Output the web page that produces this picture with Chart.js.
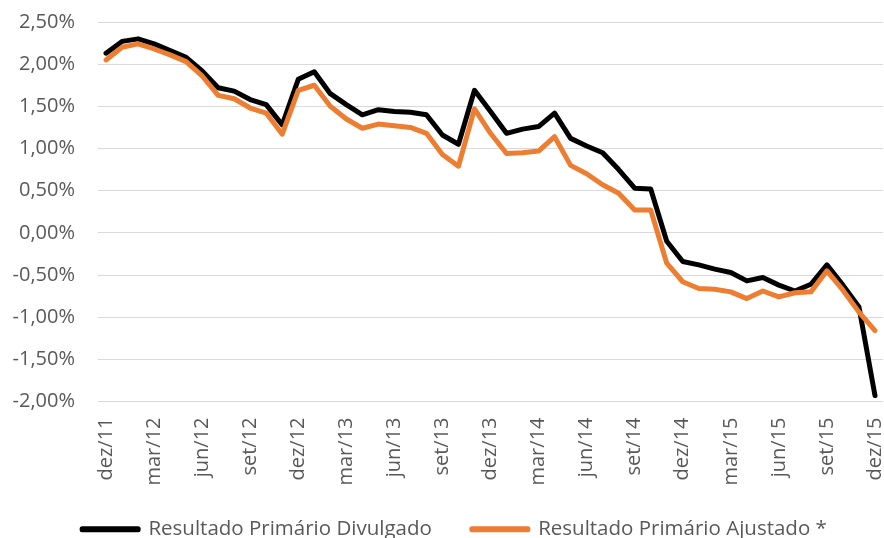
<!DOCTYPE html>
<html>
<head>
<meta charset="utf-8">
<script src="https://cdn.jsdelivr.net/npm/chart.js"></script>
<style>
  html, body { margin: 0; padding: 0; background: #fff; }
</style>
</head>
<body>
<canvas id="myChart" width="884" height="538"></canvas>
<script>
// Data
const months = [
  'dez/11', 'jan/12', 'fev/12', 'mar/12', 'abr/12', 'mai/12', 'jun/12', 'jul/12', 'ago/12', 'set/12', 'out/12', 'nov/12',
  'dez/12', 'jan/13', 'fev/13', 'mar/13', 'abr/13', 'mai/13', 'jun/13', 'jul/13', 'ago/13', 'set/13', 'out/13', 'nov/13',
  'dez/13', 'jan/14', 'fev/14', 'mar/14', 'abr/14', 'mai/14', 'jun/14', 'jul/14', 'ago/14', 'set/14', 'out/14', 'nov/14',
  'dez/14', 'jan/15', 'fev/15', 'mar/15', 'abr/15', 'mai/15', 'jun/15', 'jul/15', 'ago/15', 'set/15', 'out/15', 'nov/15',
  'dez/15'
];

const divulgado = [
  2.13, 2.27, 2.30, 2.24, 2.16, 2.08, 1.92, 1.72, 1.68, 1.58, 1.52, 1.28,
  1.82, 1.91, 1.65, 1.52, 1.40, 1.46, 1.44, 1.43, 1.40, 1.16, 1.05, 1.69,
  1.44, 1.18, 1.23, 1.26, 1.42, 1.12, 1.03, 0.95, 0.75, 0.53, 0.52, -0.10,
  -0.34, -0.38, -0.43, -0.47, -0.57, -0.53, -0.62, -0.69, -0.61, -0.38, -0.62, -0.88,
  -1.93
];

const ajustado = [
  2.05, 2.20, 2.24, 2.18, 2.11, 2.03, 1.86, 1.63, 1.59, 1.48, 1.42, 1.17,
  1.69, 1.75, 1.50, 1.35, 1.24, 1.29, 1.27, 1.25, 1.18, 0.93, 0.79, 1.47,
  1.18, 0.94, 0.95, 0.97, 1.14, 0.80, 0.70, 0.57, 0.47, 0.27, 0.27, -0.36,
  -0.58, -0.66, -0.67, -0.70, -0.78, -0.69, -0.76, -0.71, -0.70, -0.45, -0.68, -0.94,
  -1.16
];

const textColor = '#595959';
const font = { family: "'Open Sans', sans-serif", size: 20 };

// legend: small box in the layout, then stretched up and moved right like the original
const legendFix = {
  id: 'legendFix',
  afterInit(chart) {
    const fit = chart.legend.fit;
    chart.legend.fit = function () {
      fit.call(this);
      this.height = 32;
    };
  },
  afterLayout(chart) {
    const lg = chart.legend;
    lg.top -= 27;
    lg.bottom = chart.height;
    lg.left += 13;
    lg.right += 13;
  }
};

// Chart
const ctx = document.getElementById('myChart');
new Chart(ctx, {
  type: 'line',
  data: {
    labels: months,
    datasets: [{
      label: 'Resultado Primário Divulgado',
      data: divulgado,
      borderColor: '#000000',
      backgroundColor: '#000000',
      borderWidth: 5,
      borderCapStyle: 'round',
      borderJoinStyle: 'round',
      pointRadius: 0,
      order: 1
    }, {
      label: 'Resultado Primário Ajustado *',
      data: ajustado,
      borderColor: '#ED7D31',
      backgroundColor: '#ED7D31',
      borderWidth: 5,
      borderCapStyle: 'round',
      borderJoinStyle: 'round',
      pointRadius: 0,
      order: 0
    }]
  },
  plugins: [legendFix],
  options: {
    responsive: false,
    animation: false,
    layout: { padding: { top: 22, right: 1, left: 0, bottom: 0 } },
    plugins: {
      tooltip: { enabled: false },
      legend: {
        position: 'bottom',
        labels: {
          boxWidth: 56,
          boxHeight: 1,
          padding: 40,
          color: textColor,
          font: { family: font.family, size: 20.5 },
          sort: (a, b) => a.datasetIndex - b.datasetIndex
        }
      }
    },
    scales: {
      x: {
        offset: true,
        grid: { display: false, drawTicks: false },
        border: { display: false },
        ticks: {
          autoSkip: false,
          minRotation: 90,
          maxRotation: 90,
          padding: 16,
          color: textColor,
          font: font,
          callback: function (v, i) { return i % 3 === 0 ? this.getLabelForValue(v) : ''; }
        },
        afterFit: s => {
          s.height = 104.5;
          s.paddingLeft = 0;
          s.paddingRight = 0;
        }
      },
      y: {
        min: -2,
        max: 2.5,
        grid: { color: '#D9D9D9', lineWidth: 1, drawTicks: false },
        border: { display: false },
        ticks: {
          stepSize: 0.5,
          padding: 23,
          color: textColor,
          font: font,
          callback: v => v.toFixed(2).replace('.', ',') + '%'
        },
        afterFit: s => {
          s.width = 98;
          s.paddingTop = 0;
          s.paddingBottom = 0;
        }
      }
    }
  }
});
</script>
</body>
</html>
